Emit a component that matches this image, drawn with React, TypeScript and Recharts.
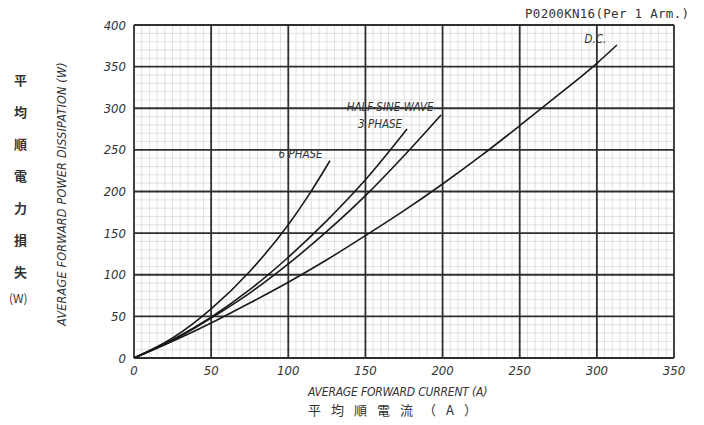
import React from 'react';
import { LineChart, Line, XAxis, YAxis, ReferenceLine, ReferenceDot } from 'recharts';

// axis ticks
const xTicks = [0, 50, 100, 150, 200, 250, 300, 350];
const yTicks = [0, 50, 100, 150, 200, 250, 300, 350, 400];

// average forward current (A) vs. average forward power dissipation (W)
const dcCurrent = [0, 25, 50, 75, 100, 125, 150, 175, 200, 225, 250, 275, 300, 313];
const dcLoss = [0, 20, 42, 66, 91, 118, 147, 177, 209, 243, 279, 316, 354, 376];

const halfSineCurrent = [0, 25, 50, 75, 100, 125, 150, 175, 199];
const halfSineLoss = [0, 21, 48, 78, 113, 152, 195, 243, 292];

const threePhaseCurrent = [0, 25, 50, 75, 100, 125, 150, 177];
const threePhaseLoss = [0, 22, 49, 82, 121, 165, 214, 275];

const sixPhaseCurrent = [0, 25, 50, 75, 100, 113, 127];
const sixPhaseLoss = [0, 24, 59, 104, 160, 195, 237];

// curve names and where they sit (data units)
const curveNames = ['6 PHASE', 'HALF-SINE-WAVE', '3 PHASE', 'D.C.'];
const curveNameX = [108, 166, 159.5, 299];
const curveNameY = [245, 302, 281, 383];

function zip(xs: number[], ys: number[]) {
  return xs.map((x, i) => ({ current: x, loss: ys[i] }));
}

const dcData = zip(dcCurrent, dcLoss);
const halfSineData = zip(halfSineCurrent, halfSineLoss);
const threePhaseData = zip(threePhaseCurrent, threePhaseLoss);
const sixPhaseData = zip(sixPhaseCurrent, sixPhaseLoss);

// fine graph-paper grid
const xMinor: number[] = [];
for (let v = 5; v < 350; v += 5) if (v % 50 !== 0) xMinor.push(v);
const yMinor: number[] = [];
for (let v = 10; v < 400; v += 10) if (v % 50 !== 0) yMinor.push(v);

const FONT = '"DejaVu Sans Condensed", "Liberation Sans Narrow", "Liberation Sans", sans-serif';
const tickStyle = { fontStyle: 'italic', fontSize: 13, fill: '#333', fontFamily: FONT };

const textBase: React.CSSProperties = {
  position: 'absolute',
  color: '#333',
  fontFamily: FONT,
  whiteSpace: 'nowrap',
  lineHeight: 1,
};

const jpVertical = ['平', '均', '順', '電', '力', '損', '失'];

export default function App() {
  return (
    <div style={{ position: 'absolute', left: 0, top: 0, width: 704, height: 425, background: '#fff' }}>
      <LineChart width={704} height={425} margin={{ top: 25, right: 30, left: 94, bottom: 37 }}>
        <XAxis
          type="number"
          dataKey="current"
          domain={[0, 350]}
          ticks={xTicks}
          allowDataOverflow
          tickLine={false}
          axisLine={false}
          height={30}
          tick={tickStyle}
        />
        <YAxis
          type="number"
          dataKey="loss"
          domain={[0, 400]}
          ticks={yTicks}
          allowDataOverflow
          tickLine={false}
          axisLine={false}
          width={40}
          tick={tickStyle}
        />

        {xMinor.map((v) => (
          <ReferenceLine key={'xm' + v} x={v} stroke="#d4d4d4" strokeWidth={0.7} />
        ))}
        {yMinor.map((v) => (
          <ReferenceLine key={'ym' + v} y={v} stroke="#d4d4d4" strokeWidth={0.7} />
        ))}
        {xTicks.map((v) => (
          <ReferenceLine key={'xM' + v} x={v} stroke="#2e2e2e" strokeWidth={1.8} />
        ))}
        {yTicks.map((v) => (
          <ReferenceLine key={'yM' + v} y={v} stroke="#2e2e2e" strokeWidth={1.8} />
        ))}

        <Line data={dcData} dataKey="loss" type="monotone" stroke="#1a1a1a" strokeWidth={1.6} dot={false} isAnimationActive={false} />
        <Line data={halfSineData} dataKey="loss" type="monotone" stroke="#1a1a1a" strokeWidth={1.6} dot={false} isAnimationActive={false} />
        <Line data={threePhaseData} dataKey="loss" type="monotone" stroke="#1a1a1a" strokeWidth={1.6} dot={false} isAnimationActive={false} />
        <Line data={sixPhaseData} dataKey="loss" type="monotone" stroke="#1a1a1a" strokeWidth={1.6} dot={false} isAnimationActive={false} />

        {curveNames.map((name, i) => (
          <ReferenceDot
            key={name}
            x={curveNameX[i]}
            y={curveNameY[i]}
            r={0}
            fill="none"
            stroke="none"
            label={{ value: name, position: 'center', fontSize: 11.5, fontStyle: 'italic', fill: '#333', fontFamily: FONT }}
          />
        ))}
      </LineChart>

      <div style={{ ...textBase, left: 525, top: 8, fontSize: 12.5, fontFamily: '"DejaVu Sans Mono", monospace', letterSpacing: 0.3 }}>
        P0200KN16(Per 1 Arm.)
      </div>

      <div style={{ ...textBase, left: 308, top: 386, fontSize: 12, fontStyle: 'italic', letterSpacing: -0.2 }}>
        AVERAGE FORWARD CURRENT (A)
      </div>
      <div style={{ ...textBase, left: 308, top: 403, fontSize: 13, fontFamily: '"Noto Sans CJK JP", sans-serif', letterSpacing: 10 }}>
        平均順電流（A）
      </div>

      <div
        style={{
          ...textBase,
          left: 62,
          top: 194,
          fontSize: 12.5,
          fontStyle: 'italic',
          letterSpacing: 0.2,
          transform: 'translate(-50%, -50%) rotate(-90deg)',
        }}
      >
        AVERAGE FORWARD POWER DISSIPATION (W)
      </div>

      {jpVertical.map((ch, i) => (
        <div
          key={ch}
          style={{ ...textBase, left: 14, top: 73 + i * 32, fontSize: 13, fontWeight: 700, fontFamily: '"Noto Sans CJK JP", sans-serif' }}
        >
          {ch}
        </div>
      ))}
      <div style={{ ...textBase, left: 9, top: 292, fontSize: 12, fontFamily: '"Noto Sans CJK JP", sans-serif' }}>
        (W)
      </div>
    </div>
  );
}
